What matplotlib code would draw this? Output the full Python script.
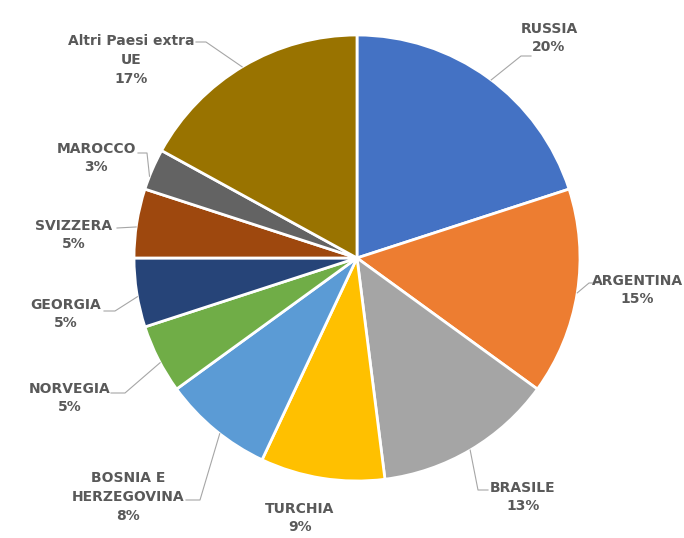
import numpy as np
import matplotlib
matplotlib.use("Agg")
import matplotlib.pyplot as plt

W, H = 684, 538

countries = ["RUSSIA", "ARGENTINA", "BRASILE", "TURCHIA", "BOSNIA E\nHERZEGOVINA",
             "NORVEGIA", "GEORGIA", "SVIZZERA", "MAROCCO", "Altri Paesi extra\nUE"]
shares = [20, 15, 13, 9, 8, 5, 5, 5, 3, 17]
colors = ["#4472C4", "#ED7D31", "#A5A5A5", "#FFC000", "#5B9BD5",
          "#70AD47", "#264478", "#9E480E", "#636363", "#997300"]

# label layout in pixel space (x, y from top): text centre, leader elbow, leader end,
# and the angle on the rim where each leader starts
label_xy = [(549, 38), (637, 290), (523, 497), (300, 518), (128, 497),
            (70, 398), (66, 314), (74, 235), (96, 158), (131, 60)]
leader_angle = [53, -9, -59.5, None, -128, -152, 190, 172, 158.5, 121]
leader_elbow = [(521, 56), (589, 283), (478, 490), None, (200, 500),
                (125, 393), (115, 311), None, (147, 153), (206, 42)]
leader_end = [(531, 56), (598, 283), (488, 490), None, (186, 500),
              (111, 393), (104, 311), (117, 228), (138, 153), (196, 42)]

CX, CY, R = 357, 258, 223


def flip(p):
    return p[0], H - p[1]


fig = plt.figure(figsize=(W / 100, H / 100), dpi=100)
ax = fig.add_axes([0, 0, 1, 1])

ax.pie(shares, colors=colors, startangle=90, counterclock=False,
       center=flip((CX, CY)), radius=R,
       wedgeprops=dict(edgecolor="white", linewidth=2))
ax.set_xlim(0, W)
ax.set_ylim(0, H)
ax.set_aspect("auto")
ax.axis("off")

for name, pct, xy, ang, elbow, end in zip(countries, shares, label_xy,
                                          leader_angle, leader_elbow, leader_end):
    x, y = flip(xy)
    ax.text(x, y, f"{name}\n{pct}%", ha="center", va="center",
            fontsize=10, fontweight="bold", color="#595959",
            family="DejaVu Sans", linespacing=1.45, clip_on=False)
    if ang is None:
        continue
    a = np.deg2rad(ang)
    start = (CX + R * np.cos(a), CY - R * np.sin(a))
    pts = [start] + ([elbow] if elbow else []) + [end]
    xs, ys = zip(*[flip(p) for p in pts])
    ax.plot(xs, ys, color="#A6A6A6", linewidth=0.8)

fig.savefig("out.png", dpi=100)
